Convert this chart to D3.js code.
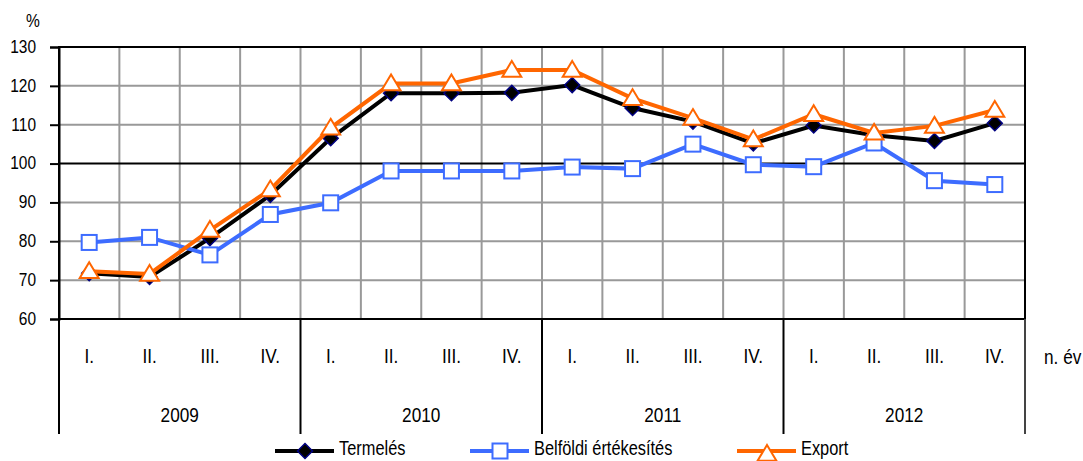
<!DOCTYPE html>
<html><head><meta charset="utf-8">
<script src="https://cdn.jsdelivr.net/npm/d3@7/dist/d3.min.js"></script>
<style>
html,body{margin:0;padding:0;background:#fff;overflow:hidden}
text{font-family:"Liberation Sans",Arial,sans-serif;fill:#000}
</style></head>
<body>
<svg id="c" width="1083" height="461"></svg>
<script>
const years = ["2009","2010","2011","2012"];
const quarters = ["I.","II.","III.","IV."];
const yTicks = [60,70,80,90,100,110,120,130];
const seriesNames = ["Termelés","Belföldi értékesítés","Export"];
const termeles = [71.8,70.8,80.8,91.9,106.5,118.1,118.1,118.2,120.2,114.3,110.8,105.2,109.8,107.3,105.8,110.4];
const belfoldi = [79.7,81.0,76.5,86.9,89.9,98.1,98.1,98.1,99.1,98.7,105.0,99.7,99.2,105.3,95.6,94.6];
const exportV = [72.3,71.6,82.9,93.3,109.2,120.6,120.6,124.1,124.1,116.8,111.7,106.2,112.7,107.9,109.7,113.8];

const svg = d3.select("#c");
const L=59,R=1025,T=47,B=319;
const SX=0.82;
const cats = d3.range(years.length*quarters.length);
const x = d3.scaleBand().domain(cats).range([L,R]).padding(0);
const xYear = d3.scaleBand().domain(years).range([L,R]).padding(0);
const y = d3.scaleLinear().domain([60,130]).range([B,T]);

function label(g,px,py,txt,size,anchor){
  return g.append("text").attr("transform",`translate(${px},${py}) scale(${SX},1)`)
    .attr("text-anchor",anchor||"middle").style("font-size",size+"px").text(txt);
}

// horizontal grid
svg.append("g").selectAll("line").data(yTicks.filter(v=>v!==60&&v!==130&&v!==100)).join("line")
  .attr("x1",L).attr("x2",R).attr("y1",d=>y(d)).attr("y2",d=>y(d))
  .attr("stroke","#999").attr("stroke-width",2);
// vertical grid
svg.append("g").selectAll("line").data(cats.slice(1)).join("line")
  .attr("x1",d=>x(d)).attr("x2",d=>x(d)).attr("y1",T).attr("y2",B)
  .attr("stroke","#999").attr("stroke-width",2);
// 100 line
svg.append("line").attr("x1",L).attr("x2",R).attr("y1",y(100)).attr("y2",y(100)).attr("stroke","#000").attr("stroke-width",2);
// border
svg.append("rect").attr("x",L).attr("y",T).attr("width",R-L).attr("height",B-T)
  .attr("fill","none").attr("stroke","#000").attr("stroke-width",2);

// y axis
const ya = svg.append("g").attr("transform",`translate(${L},0)`)
  .call(d3.axisLeft(y).tickValues(yTicks).tickSize(9).tickPadding(14).tickFormat(d3.format("d")));
ya.select(".domain").attr("stroke","#000").attr("stroke-width",2);
ya.selectAll(".tick line").attr("stroke","#000").attr("stroke-width",2);
ya.selectAll(".tick text").style("font-size","18px").attr("font-family","Liberation Sans, Arial, sans-serif")
  .attr("fill","#000").attr("x",-23/0.86).attr("dy","0.3em").attr("transform","scale(0.86,1)");
label(svg,33,27,"%",19);

// category axis: quarters
const gq = svg.append("g");
cats.forEach(d=>label(gq,x(d)+x.bandwidth()/2,363,quarters[d%quarters.length],21));
// year labels
const gy = svg.append("g");
years.forEach(d=>label(gy,xYear(d)+xYear.bandwidth()/2,422,d,21));
// year separators
const seps = years.map(d=>xYear(d)).concat([R]);
svg.append("g").selectAll("line").data(seps).join("line")
  .attr("x1",d=>d).attr("x2",d=>d).attr("y1",B).attr("y2",434)
  .attr("stroke",(d,i)=>i===seps.length-1?"#444":"#000").attr("stroke-width",2);
label(svg,1044,364,"n. év",21,"start");

// series
const cx = i=>x(i)+x.bandwidth()/2;
const line = d3.line().x((d,i)=>cx(i)).y(d=>y(d));
function diamond(g,px,py,s){g.append("path").attr("d",`M${px},${py-s}L${px+s},${py}L${px},${py+s}L${px-s},${py}Z`).attr("fill","#000").attr("stroke","#000080").attr("stroke-width",1.5);}
function square(g,px,py,s){g.append("rect").attr("x",px-s).attr("y",py-s).attr("width",2*s).attr("height",2*s).attr("fill","#fff").attr("stroke","#3d6cff").attr("stroke-width",2);}
function tri(g,px,py,s){g.append("path").attr("d",`M${px},${py-s}L${px+s*1.05},${py+s*0.75}L${px-s*1.05},${py+s*0.75}Z`).attr("fill","#fff").attr("stroke","#ff6600").attr("stroke-width",2);}

const gT = svg.append("g");
gT.append("path").datum(termeles).attr("d",line).attr("fill","none").attr("stroke","#000").attr("stroke-width",4);
termeles.forEach((v,i)=>diamond(gT,cx(i),y(v),7.5));
const gB = svg.append("g");
gB.append("path").datum(belfoldi).attr("d",line).attr("fill","none").attr("stroke","#3d6cff").attr("stroke-width",4);
belfoldi.forEach((v,i)=>square(gB,cx(i),y(v),7.5));
const gE = svg.append("g");
gE.append("path").datum(exportV).attr("d",line).attr("fill","none").attr("stroke","#ff6600").attr("stroke-width",4);
exportV.forEach((v,i)=>tri(gE,cx(i),y(v),9));

// legend
const lg = svg.append("g");
const lx = [275,470,737];
const lcol = ["#000","#3d6cff","#ff6600"];
seriesNames.forEach((n,i)=>{
  const yy=451;
  lg.append("line").attr("x1",lx[i]).attr("x2",lx[i]+59).attr("y1",yy).attr("y2",yy).attr("stroke",lcol[i]).attr("stroke-width",4);
  const mx=lx[i]+30;
  if(i===0) diamond(lg,mx,yy,7.5);
  if(i===1) square(lg,mx,yy,7.5);
  if(i===2) tri(lg,mx,yy+3,9);
  label(lg,lx[i]+64,455,n,20,"start");
});
</script>
</body></html>
